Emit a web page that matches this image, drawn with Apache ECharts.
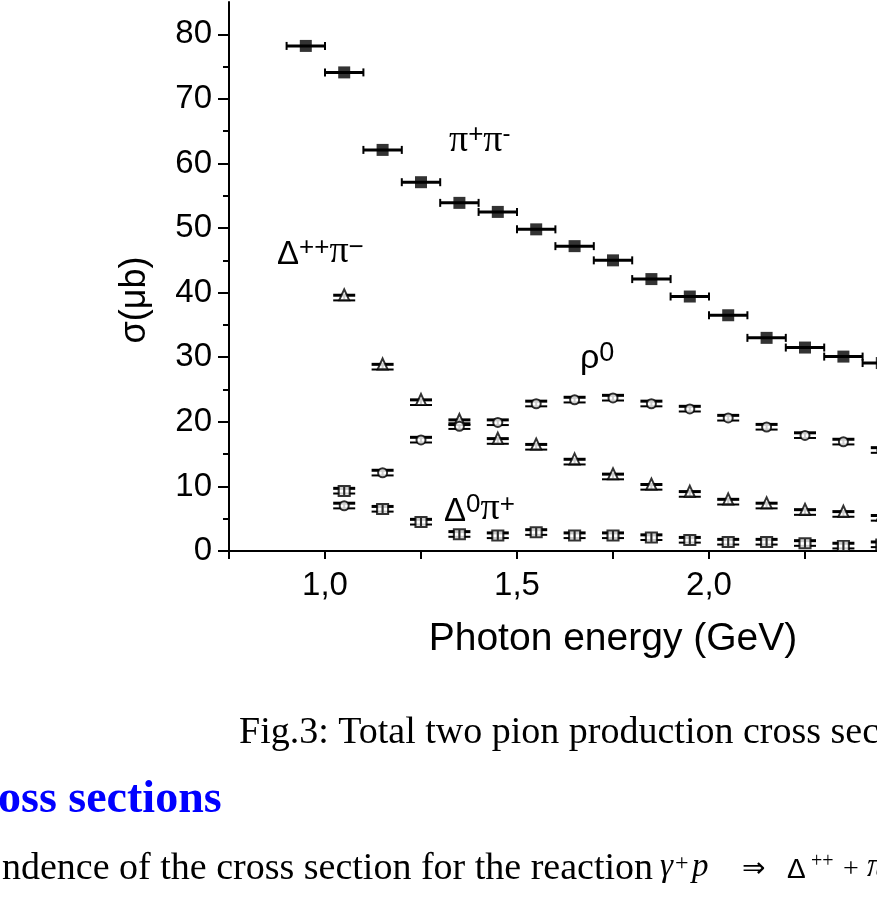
<!DOCTYPE html>
<html>
<head>
<meta charset="utf-8">
<title>Two pion production cross sections</title>
<script src="https://cdn.jsdelivr.net/npm/echarts@6/dist/echarts.min.js"></script>
<style>
  html, body { margin: 0; padding: 0; background: #fff; overflow: hidden; }
  /* the figure is wider than the window, the right part is cut off like in the scan */
  #chart { width: 1000px; height: 901px; }
</style>
</head>
<body>
<div id="chart"></div>
<script>
// photon energy bin centres (GeV)
var energies = [0.95, 1.05, 1.15, 1.25, 1.35, 1.45, 1.55, 1.65, 1.75, 1.85, 1.95, 2.05, 2.15, 2.25, 2.35, 2.45];
// cross sections (micro barn)
var piPlusPiMinus = [78.2, 74.1, 62.1, 57.1, 53.9, 52.5, 49.8, 47.2, 45.0, 42.1, 39.4, 36.5, 33.0, 31.5, 30.1, 29.1];
var deltaPPPiMinus = [null, 39.2, 28.5, 23.0, 19.9, 17.0, 16.1, 13.8, 11.5, 9.9, 8.8, 7.6, 7.0, 6.0, 5.7, 5.1];
var rho0 = [null, 7.0, 12.1, 17.2, 19.3, 19.9, 22.8, 23.4, 23.7, 22.8, 22.0, 20.6, 19.2, 17.9, 16.9, 15.6];
var delta0PiPlus = [null, 9.3, 6.5, 4.5, 2.6, 2.4, 2.9, 2.4, 2.4, 2.1, 1.7, 1.4, 1.4, 1.2, 0.8, 1.0];
// half bin width and small statistical errors
var binHalfWidth = 0.05;
var smallErr = 0.4;

// axis ticks / labels
var xLabels = [1.0, 1.5, 2.0, 2.5];
var xTicks = [0.75, 1.0, 1.25, 1.5, 1.75, 2.0, 2.25, 2.5];
var yLabels = [0, 10, 20, 30, 40, 50, 60, 70, 80];
var yMinorTicks = [5, 15, 25, 35, 45, 55, 65, 75];

var SANS = '"Liberation Sans", Arial, sans-serif';
var SERIF = '"Liberation Serif", "Times New Roman", serif';

function pairs(values) {
    var out = [];
    for (var i = 0; i < energies.length; i++) {
        if (values[i] != null) out.push([energies[i], values[i]]);
    }
    return out;
}

function seg(x1, y1, x2, y2, w) {
    return { type: 'line', shape: { x1: x1, y1: y1, x2: x2, y2: y2 }, style: { stroke: '#000', lineWidth: w } };
}

// horizontal error bar (bin width) with end caps
function binBar(params, api) {
    var x = api.value(0), y = api.value(1);
    var a = api.coord([x - binHalfWidth, y]);
    var b = api.coord([x + binHalfWidth, y]);
    return {
        type: 'group', children: [
            seg(a[0], a[1], b[0], b[1], 3),
            seg(a[0], a[1] - 4, a[0], a[1] + 4, 2),
            seg(b[0], b[1] - 4, b[0], b[1] + 4, 2)
        ]
    };
}

// small vertical error bar with wide caps
function errBar(params, api) {
    var x = api.value(0), y = api.value(1);
    var hi = api.coord([x, y + smallErr]);
    var lo = api.coord([x, y - smallErr]);
    return {
        type: 'group', children: [
            seg(hi[0], hi[1], lo[0], lo[1], 2),
            seg(hi[0] - 11, hi[1], hi[0] + 11, hi[1], 3),
            seg(lo[0] - 11, lo[1], lo[0] + 11, lo[1], 2)
        ]
    };
}

var openStyle = { color: '#fff', borderColor: '#000', borderWidth: 2 };

var chart = echarts.init(document.getElementById('chart'));
chart.setOption({
    backgroundColor: '#fff',
    animation: false,
    grid: { left: 229, top: 2, right: 3, bottom: 350, containLabel: false },
    xAxis: [{
        type: 'value', position: 'bottom', min: 0.75, max: 2.75, interval: 0.25,
        axisLine: { lineStyle: { color: '#000', width: 2 } },
        axisTick: { length: 8, customValues: xTicks, lineStyle: { color: '#000', width: 2 } },
        axisLabel: {
            customValues: xLabels, margin: 18, color: '#000', fontSize: 33, fontFamily: SANS,
            formatter: function (v) { return v.toFixed(1).replace('.', ','); }
        },
        splitLine: { show: false },
        name: 'Photon energy (GeV)', nameLocation: 'middle', nameGap: 69,
        nameTextStyle: { color: '#000', fontSize: 39, fontFamily: SANS }
    }, {
        // top frame with inward ticks
        type: 'value', position: 'top', min: 0.75, max: 2.75, interval: 0.25,
        axisLine: { lineStyle: { color: '#000', width: 2 } },
        axisTick: { inside: true, length: 8, customValues: xTicks, lineStyle: { color: '#000', width: 2 } },
        axisLabel: { show: false },
        splitLine: { show: false }
    }],
    yAxis: [{
        type: 'value', position: 'left', min: 0, max: 85, interval: 5,
        axisLine: { show: true, lineStyle: { color: '#000', width: 2 } },
        axisTick: { show: true, length: 11, customValues: yLabels, lineStyle: { color: '#000', width: 2 } },
        axisLabel: { customValues: yLabels, margin: 17, color: '#000', fontSize: 33, fontFamily: SANS },
        splitLine: { show: false }
    }, {
        // minor ticks
        type: 'value', position: 'left', min: 0, max: 85, interval: 5,
        axisLine: { show: false },
        axisTick: { show: true, length: 6, customValues: yMinorTicks, lineStyle: { color: '#000', width: 2 } },
        axisLabel: { show: false },
        splitLine: { show: false }
    }],
    series: [
        { type: 'custom', name: 'pipi bins', renderItem: binBar, data: pairs(piPlusPiMinus), z: 2 },
        { type: 'scatter', name: 'π+π−', data: pairs(piPlusPiMinus), symbol: 'rect', symbolSize: [12, 12],
          itemStyle: { color: '#000' }, z: 3 },
        { type: 'custom', name: 'Δ++π− err', renderItem: errBar, data: pairs(deltaPPPiMinus), z: 2 },
        { type: 'scatter', name: 'Δ++π−', data: pairs(deltaPPPiMinus), symbol: 'triangle', symbolSize: [10, 11],
          symbolOffset: [0, -3], itemStyle: openStyle, z: 3 },
        { type: 'custom', name: 'ρ0 err', renderItem: errBar, data: pairs(rho0), z: 2 },
        { type: 'scatter', name: 'ρ0', data: pairs(rho0), symbol: 'circle', symbolSize: 9,
          itemStyle: openStyle, z: 3 },
        { type: 'custom', name: 'Δ0π+ err', renderItem: errBar, data: pairs(delta0PiPlus), z: 2 },
        { type: 'scatter', name: 'Δ0π+', data: pairs(delta0PiPlus),
          symbol: 'path://M0,0L10,0L10,10L0,10Z M5,0L5,10', symbolSize: [11, 10],
          itemStyle: openStyle, z: 3 }
    ],
    graphic: [
        // y axis title
        { type: 'text', x: 135, y: 300, rotation: Math.PI / 2,
          style: { text: 'σ(μb)', font: '36px ' + SANS, fill: '#000', align: 'center', verticalAlign: 'middle' } },
        // curve labels
        { type: 'text', x: 449, y: 122,
          style: { text: '{p|π}{s|+}{p|π}{m|-}', fill: '#000', verticalAlign: 'top',
            rich: {
                p: { fontFamily: SERIF, fontSize: 38, lineHeight: 38, verticalAlign: 'bottom' },
                s: { fontFamily: SANS, fontSize: 26, lineHeight: 20, verticalAlign: 'top' },
                m: { fontFamily: SANS, fontSize: 24, lineHeight: 24, verticalAlign: 'top' }
            } } },
        { type: 'text', x: 277, y: 235,
          style: { text: '{d|Δ}{s|++}{p|π}{s|−}', fill: '#000', verticalAlign: 'top',
            rich: {
                d: { fontFamily: SANS, fontSize: 33, lineHeight: 36, verticalAlign: 'bottom' },
                p: { fontFamily: SERIF, fontSize: 38, lineHeight: 36, verticalAlign: 'bottom' },
                s: { fontFamily: SANS, fontSize: 26, lineHeight: 20, verticalAlign: 'top' }
            } } },
        { type: 'text', x: 580, y: 340,
          style: { text: '{r|ρ}{s|0}', fill: '#000', verticalAlign: 'top',
            rich: {
                r: { fontFamily: SANS, fontSize: 34, lineHeight: 36, verticalAlign: 'bottom' },
                s: { fontFamily: SANS, fontSize: 27, lineHeight: 26, verticalAlign: 'top' }
            } } },
        { type: 'text', x: 444, y: 492,
          style: { text: '{d|Δ}{s|0}{p|π}{s|+}', fill: '#000', verticalAlign: 'top',
            rich: {
                d: { fontFamily: SANS, fontSize: 33, lineHeight: 36, verticalAlign: 'bottom' },
                p: { fontFamily: SERIF, fontSize: 38, lineHeight: 36, verticalAlign: 'bottom' },
                s: { fontFamily: SANS, fontSize: 26, lineHeight: 20, verticalAlign: 'top' }
            } } },
        // surrounding document text
        { type: 'text', x: 239, y: 733,
          style: { text: 'Fig.3: Total two pion production cross sec', font: '38px ' + SERIF, fill: '#000', verticalAlign: 'middle' } },
        { type: 'text', x: -2, y: 800,
          style: { text: 'oss sections', font: 'bold 46px ' + SERIF, fill: '#0000ff', verticalAlign: 'middle' } },
        { type: 'text', x: 2, y: 869,
          style: { text: 'ndence of the cross section for the reaction', font: '38px ' + SERIF, fill: '#000', verticalAlign: 'middle' } },
        { type: 'text', x: 660, y: 868,
          style: { text: '{i|γ}{n|+}{w|p}{a|⇒}{d|Δ}{s|++}{c|+}{i|π}', fill: '#000', verticalAlign: 'middle',
            rich: {
                i: { fontFamily: SERIF, fontStyle: 'italic', fontSize: 33, lineHeight: 32, width: 15, verticalAlign: 'bottom' },
                w: { fontFamily: SERIF, fontStyle: 'italic', fontSize: 33, lineHeight: 32, width: 50, verticalAlign: 'bottom' },
                n: { fontFamily: SERIF, fontSize: 24, lineHeight: 30, width: 17, verticalAlign: 'top' },
                a: { fontFamily: 'DejaVu Sans', fontSize: 28, lineHeight: 32, width: 45, verticalAlign: 'bottom' },
                d: { fontFamily: SANS, fontSize: 28, lineHeight: 32, width: 24, verticalAlign: 'bottom' },
                s: { fontFamily: SERIF, fontSize: 20, lineHeight: 18, width: 32, verticalAlign: 'top' },
                c: { fontFamily: SERIF, fontSize: 28, lineHeight: 32, width: 24, verticalAlign: 'bottom' }
            } } }
    ]
});
</script>
</body>
</html>
